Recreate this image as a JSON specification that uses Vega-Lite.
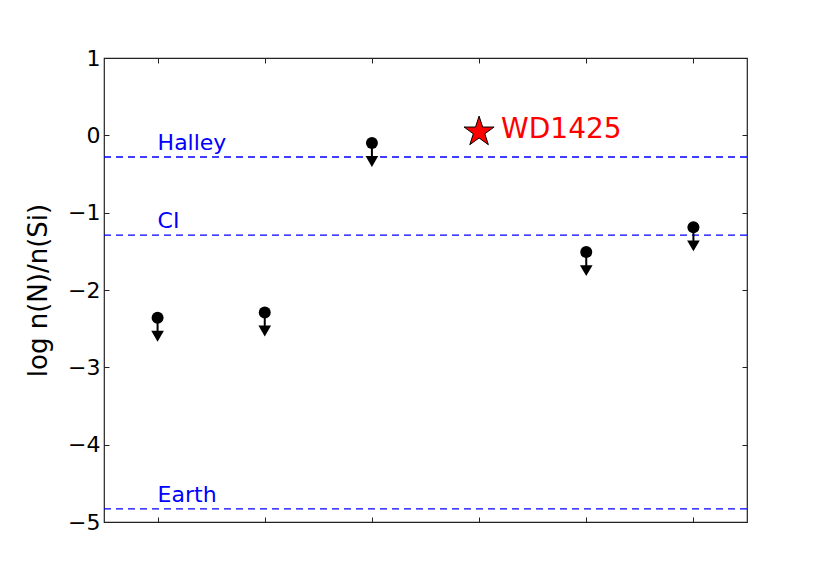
{
  "$schema": "https://vega.github.io/schema/vega-lite/v6.json",
  "width": 643,
  "height": 464,
  "autosize": {"type": "none"},
  "padding": {"left": 104, "top": 58, "right": 83, "bottom": 59},
  "background": "white",
  "config": {
    "view": {"stroke": "#222222", "strokeWidth": 1.2},
    "font": "DejaVu Sans"
  },
  "resolve": {"axis": {"x": "independent", "y": "independent"}},
  "datasets": {
    "limits": [
      {"pos": 1, "v": -2.36},
      {"pos": 2, "v": -2.29},
      {"pos": 3, "v": -0.10},
      {"pos": 5, "v": -1.51},
      {"pos": 6, "v": -1.19}
    ],
    "refs": [
      {"name": "Halley", "v": -0.28},
      {"name": "CI", "v": -1.29},
      {"name": "Earth", "v": -4.83}
    ],
    "wd": [
      {"pos": 4, "v": 0.07, "lo": 0.03, "hi": 0.09, "label": "WD1425"}
    ]
  },
  "layer": [
    {
      "data": {"name": "refs"},
      "mark": {"type": "rule", "color": "#0000ff", "strokeDash": [7, 5], "strokeWidth": 1.3},
      "encoding": {
        "y": {"field": "v", "type": "quantitative", "scale": {"domain": [-5, 1], "nice": false, "zero": false},
          "axis": {"orient": "left", "title": "log n(N)/n(Si)", "titleFontSize": 26, "titleFontWeight": "normal", "titleColor": "black",
            "titleX": -66, "titleY": 232, "titleBaseline": "middle", "titleAlign": "center", "titleAngle": -90,
            "values": [-5, -4, -3, -2, -1, 0, 1], "format": "d", "labelFontSize": 22, "labelColor": "black",
            "tickSize": -5, "tickColor": "#222222", "labelPadding": 9, "domain": false, "grid": false, "labelFlush": false}}
      }
    },
    {
      "data": {"name": "refs"},
      "mark": {"type": "text", "color": "#0000ff", "fontSize": 22, "align": "left", "baseline": "alphabetic", "dy": -7},
      "encoding": {
        "x": {"datum": 1, "type": "quantitative", "axis": null},
        "y": {"field": "v", "type": "quantitative", "axis": null},
        "text": {"field": "name"}
      }
    },
    {
      "data": {"name": "limits"},
      "mark": {"type": "rule", "color": "black", "strokeWidth": 2, "y2Offset": 14},
      "encoding": {
        "x": {"field": "pos", "type": "quantitative", "scale": {"domain": [0.5, 6.5], "nice": false, "zero": false},
          "axis": {"orient": "bottom", "title": null, "values": [1, 2, 3, 4, 5, 6], "labels": false, "tickSize": -5, "tickColor": "#222222", "domain": false, "grid": false}},
        "y": {"field": "v", "type": "quantitative", "axis": null},
        "y2": {"field": "v"}
      }
    },
    {
      "data": {"name": "limits"},
      "mark": {"type": "point", "shape": "triangle-down", "filled": true, "color": "black", "size": 160, "opacity": 1, "yOffset": 18.5},
      "encoding": {
        "x": {"field": "pos", "type": "quantitative", "axis": null},
        "y": {"field": "v", "type": "quantitative", "axis": null}
      }
    },
    {
      "data": {"name": "limits"},
      "mark": {"type": "circle", "color": "black", "size": 144, "opacity": 1},
      "encoding": {
        "x": {"field": "pos", "type": "quantitative",
          "axis": {"orient": "top", "title": null, "values": [1, 2, 3, 4, 5, 6], "labels": false, "tickSize": -5, "tickColor": "#222222", "domain": false, "grid": false}},
        "y": {"field": "v", "type": "quantitative",
          "axis": {"orient": "right", "title": null, "values": [-5, -4, -3, -2, -1, 0, 1], "labels": false, "tickSize": -5, "tickColor": "#222222", "domain": false, "grid": false}}
      }
    },
    {
      "data": {"name": "wd"},
      "mark": {"type": "rule", "color": "#ff8080", "strokeWidth": 1},
      "encoding": {
        "x": {"field": "pos", "type": "quantitative", "axis": null},
        "y": {"field": "lo", "type": "quantitative", "axis": null},
        "y2": {"field": "hi"}
      }
    },
    {
      "data": {"name": "wd"},
      "mark": {"type": "point", "shape": "M0,-1L0.2245,-0.309L0.951,-0.309L0.363,0.118L0.588,0.809L0,0.382L-0.588,0.809L-0.363,0.118L-0.951,-0.309L-0.2245,-0.309Z", "filled": true, "fill": "red", "stroke": "black", "strokeWidth": 1, "size": 1000, "opacity": 1, "yOffset": 2},
      "encoding": {
        "x": {"field": "pos", "type": "quantitative", "axis": null},
        "y": {"field": "v", "type": "quantitative", "axis": null}
      }
    },
    {
      "data": {"name": "wd"},
      "mark": {"type": "text", "color": "red", "fontSize": 28, "align": "left", "baseline": "middle", "dx": 22},
      "encoding": {
        "x": {"field": "pos", "type": "quantitative", "axis": null},
        "y": {"field": "v", "type": "quantitative", "axis": null},
        "text": {"field": "label"}
      }
    }
  ]
}
